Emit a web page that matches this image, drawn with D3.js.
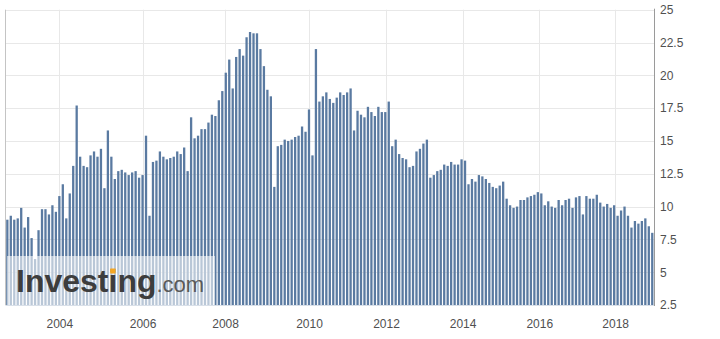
<!DOCTYPE html>
<html>
<head>
<meta charset="utf-8">
<script src="https://cdn.jsdelivr.net/npm/d3@7"></script>
<style>
  html, body { margin: 0; padding: 0; background: #fff; }
  svg { display: block; font-family: "Liberation Sans", Arial, sans-serif; }
</style>
</head>
<body>
<svg id="chart" width="720" height="339"></svg>
<script>
// Monthly values, Oct 2002 .. end 2018 (ordinal positions)
const values = [
  9.0, 9.3, 9.0, 9.1, 9.9, 8.4, 9.2, 7.6, 6.0, 8.2,
  9.8, 9.8, 9.4, 10.1, 9.6, 10.8, 11.7, 9.1, 11.0, 13.1,
  17.7, 13.8, 13.1, 13.0, 13.9, 14.2, 13.8, 14.4, 11.4, 15.8,
  13.8, 12.1, 12.7, 12.8, 12.6, 12.4, 12.6, 12.7, 12.2, 12.4,
  15.4, 9.3, 13.4, 13.5, 14.2, 13.8, 13.6, 13.7, 13.8, 14.2,
  14.0, 14.5, 12.7, 16.8, 15.2, 15.4, 15.9, 15.9, 16.4, 17.0,
  16.9, 18.1, 18.8, 20.2, 21.2, 19.0, 21.4, 22.0, 21.5, 22.9,
  23.3, 23.2, 23.2, 22.0, 20.7, 18.9, 18.4, 11.5, 14.6, 14.7,
  15.1, 15.0, 15.1, 15.3, 15.4, 16.1, 15.7, 17.4, 13.9, 22.0,
  18.0, 18.4, 18.7, 18.2, 17.9, 18.3, 18.7, 18.5, 18.7, 19.0,
  15.8, 17.3, 17.0, 16.8, 17.6, 17.2, 16.9, 17.6, 17.2, 17.2,
  18.0, 14.6, 15.1, 14.0, 13.7, 13.6, 13.0, 13.1, 14.2, 14.4,
  14.8, 15.1, 12.2, 12.4, 12.7, 12.8, 13.2, 13.1, 13.4, 13.2,
  13.2, 13.6, 13.5, 11.7, 12.1, 11.9, 12.4, 12.3, 12.1, 11.8,
  11.5, 11.4, 11.6, 11.9, 10.6, 10.1, 9.9, 10.0, 10.5, 10.5,
  10.7, 10.8, 10.9, 11.1, 11.0, 10.1, 10.4, 10.0, 9.9, 10.5,
  10.1, 10.5, 10.6, 9.9, 10.7, 10.8, 9.4, 10.8, 10.6, 10.6,
  10.9, 10.3, 10.0, 10.2, 9.9, 10.1, 9.3, 9.7, 10.0, 9.3,
  8.4, 8.9, 8.7, 8.9, 9.1, 8.5, 8.0
];
const yearLabels = ["2004", "2006", "2008", "2010", "2012", "2014", "2016", "2018"];
const yearPositions = [15, 39, 62.8, 87, 109.2, 131.3, 153.4, 175.3]; // ordinal bar position of each year tick
const yTicks = [2.5, 5, 7.5, 10, 12.5, 15, 17.5, 20, 22.5, 25];

const svg = d3.select("#chart");
const plotLeft = 5.6, plotRight = 654, plotTop = 9.7, plotBottom = 305;

const x = d3.scaleLinear().domain([-0.5, values.length - 0.5]).range([plotLeft, plotRight]);
const y = d3.scaleLinear().domain([2.5, 25]).range([plotBottom, plotTop]);
const pitch = x(1) - x(0);
const bw = pitch * 0.66;

// gridlines
const grid = svg.append("g");
grid.selectAll("line.h").data(yTicks).join("line")
  .attr("x1", plotLeft).attr("x2", plotRight)
  .attr("y1", d => Math.round(y(d)) + 0.5).attr("y2", d => Math.round(y(d)) + 0.5)
  .attr("stroke", "#e8e8e8").attr("stroke-width", 1);
grid.selectAll("line.v").data(yearPositions).join("line")
  .attr("x1", d => Math.round(x(d)) + 0.5).attr("x2", d => Math.round(x(d)) + 0.5)
  .attr("y1", y(25)).attr("y2", plotBottom)
  .attr("stroke", "#e8e8e8").attr("stroke-width", 1);

// bars
svg.append("g").selectAll("rect").data(values).join("rect")
  .attr("x", (d, i) => x(i) - bw / 2)
  .attr("width", bw)
  .attr("y", d => y(d))
  .attr("height", d => y(2.5) - y(d))
  .attr("fill", "#5a7aa1");

// axis lines
svg.append("line").attr("x1", 5.5).attr("x2", 5.5).attr("y1", y(25)).attr("y2", plotBottom)
  .attr("stroke", "#c4c4c4");
svg.append("line").attr("x1", plotRight + 0.5).attr("x2", plotRight + 0.5).attr("y1", y(25) - 1).attr("y2", plotBottom + 1)
  .attr("stroke", "#9a9a9a");
svg.append("line").attr("x1", plotLeft).attr("x2", plotRight).attr("y1", plotBottom + 0.5).attr("y2", plotBottom + 0.5)
  .attr("stroke", "#d8dfe8");

// y axis labels (right)
const yAxis = d3.axisRight(y).tickValues(yTicks).tickSize(0).tickPadding(6)
  .tickFormat(d => String(d));
const ya = svg.append("g").attr("transform", `translate(${plotRight},0)`).call(yAxis);
ya.select(".domain").remove();
ya.selectAll("text").attr("font-size", 12).attr("fill", "#505050")
  .attr("font-family", "'Liberation Sans', Arial, sans-serif");

// x axis labels
const xAxis = d3.axisBottom(x).tickValues(yearPositions).tickSize(0).tickPadding(14)
  .tickFormat((d, i) => yearLabels[i]);
const xa = svg.append("g").attr("transform", `translate(0,${plotBottom})`).call(xAxis);
xa.select(".domain").remove();
xa.selectAll("text").attr("font-size", 12).attr("fill", "#505050")
  .attr("font-family", "'Liberation Sans', Arial, sans-serif");

// watermark
const wm = svg.append("g");
wm.append("rect").attr("x", 7).attr("y", 256).attr("width", 208).attr("height", plotBottom - 256)
  .attr("fill", "#ffffff").attr("opacity", 0.58);
const logo = wm.append("text").attr("x", 16).attr("y", 292)
  .attr("font-family", "'Liberation Sans', Arial, sans-serif");
logo.append("tspan").attr("font-size", 32).attr("font-weight", "bold").attr("fill", "#3d3d3d")
  .text("Investing");
logo.append("tspan").attr("font-size", 22).attr("fill", "#5a5a5a").text(".com");
try {
  const ext = logo.node().getExtentOfChar(6);
  wm.append("rect").attr("x", ext.x + ext.width / 2 - 2.7).attr("y", 268.5)
    .attr("width", 5.4).attr("height", 5).attr("fill", "#f5a623");
} catch (e) {}
</script>
</body>
</html>
